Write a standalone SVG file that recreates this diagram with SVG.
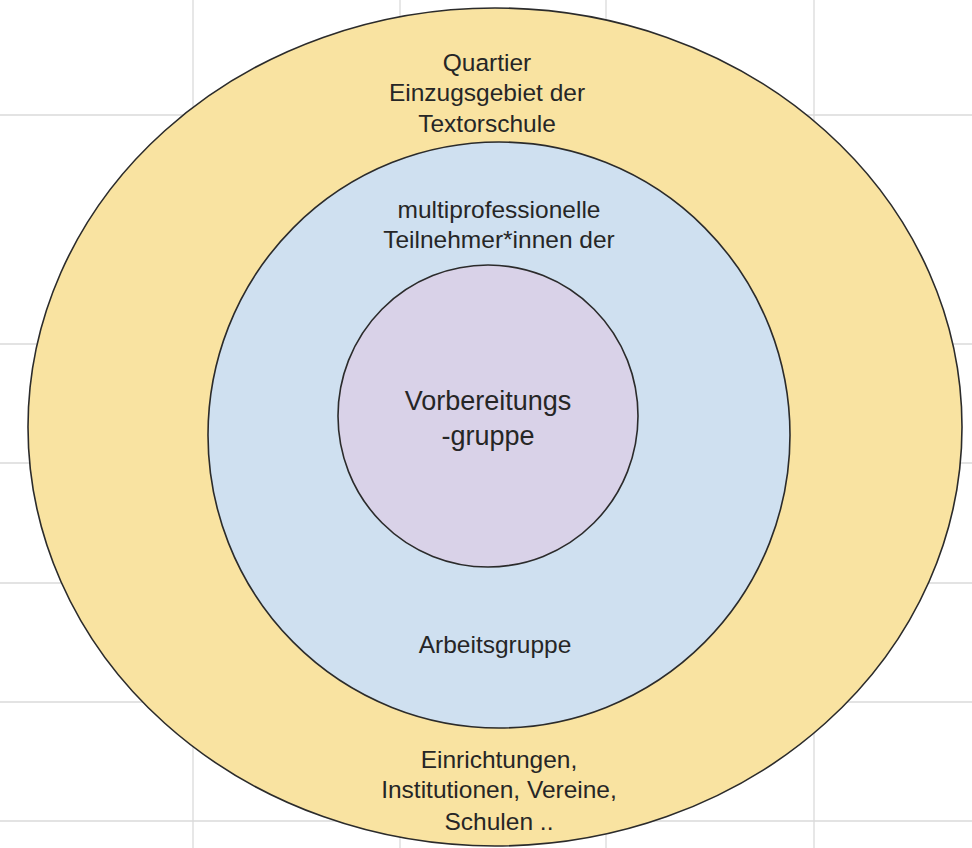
<svg xmlns="http://www.w3.org/2000/svg" width="972" height="848" viewBox="0 0 972 848">
<style>
.grid line{stroke:#dadada;stroke-width:1.3}
.ring{stroke:#2b2b2b;stroke-width:1.6}
text{font-family:"Liberation Sans",Arial,sans-serif;fill:#262626;text-anchor:middle;font-size:24.5px}
.big{font-size:27px}
</style>
<rect width="972" height="848" fill="#ffffff"/>
<g class="grid">
<line x1="193" y1="0" x2="193" y2="848"/>
<line x1="400" y1="0" x2="400" y2="848"/>
<line x1="606" y1="0" x2="606" y2="848"/>
<line x1="814" y1="0" x2="814" y2="848"/>
<line x1="0" y1="115" x2="972" y2="115"/>
<line x1="0" y1="344" x2="972" y2="344"/>
<line x1="0" y1="463" x2="972" y2="463"/>
<line x1="0" y1="583" x2="972" y2="583"/>
<line x1="0" y1="702" x2="972" y2="702"/>
<line x1="0" y1="821" x2="972" y2="821"/>
</g>
<g id="quartier">
<ellipse class="ring" cx="495" cy="427" rx="467" ry="419" fill="#f9e3a1"/>
<text x="487" y="71">Quartier</text>
<text x="487" y="101">Einzugsgebiet der</text>
<text x="487" y="132">Textorschule</text>
<text x="499" y="768">Einrichtungen,</text>
<text x="499" y="798">Institutionen, Vereine,</text>
<text x="499" y="830">Schulen ..</text>
</g>
<g id="arbeitsgruppe">
<ellipse class="ring" cx="499" cy="435" rx="291" ry="293" fill="#cfe0f0"/>
<text x="499" y="218">multiprofessionelle</text>
<text x="499" y="248">Teilnehmer*innen der</text>
<text x="495" y="653">Arbeitsgruppe</text>
</g>
<g id="vorbereitungsgruppe">
<ellipse class="ring" cx="488" cy="416" rx="150" ry="151" fill="#d9d2e8"/>
<text class="big" x="488" y="410">Vorbereitungs</text>
<text class="big" x="488" y="445">-gruppe</text>
</g>
<g id="connectors"/>
</svg>
